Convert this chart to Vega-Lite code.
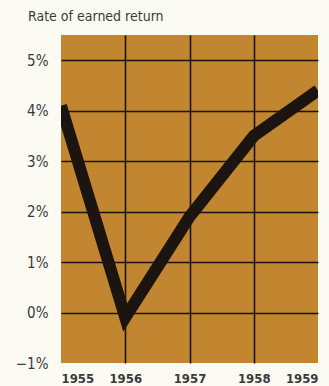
{
  "$schema": "https://vega.github.io/schema/vega-lite/v6.json",
  "autosize": "none",
  "width": 257,
  "height": 328,
  "padding": {"left": 61, "top": 35, "right": 11, "bottom": 23},
  "background": "#fcfbf3",
  "config": {
    "view": {"fill": "#c1862f", "stroke": null},
    "font": "DejaVu Sans Condensed"
  },
  "title": {
    "text": "Rate of earned return",
    "anchor": "start",
    "frame": "group",
    "dx": -33,
    "offset": 11,
    "fontSize": 14,
    "fontWeight": "normal",
    "color": "#3a3a3a",
    "font": "DejaVu Sans Condensed"
  },
  "data": {
    "values": [
      {"year": 1955, "rate": 4.1},
      {"year": 1956, "rate": -0.1},
      {"year": 1957, "rate": 1.9},
      {"year": 1958, "rate": 3.5},
      {"year": 1959, "rate": 4.4}
    ]
  },
  "mark": {"type": "line", "color": "#1c1410", "strokeWidth": 12, "clip": true, "strokeJoin": "miter"},
  "encoding": {
    "x": {
      "field": "year",
      "type": "quantitative",
      "scale": {"domain": [1955, 1959], "nice": false, "zero": false},
      "axis": {
        "title": null,
        "values": [1955, 1956, 1957, 1958, 1959],
        "format": "d",
        "domain": false,
        "ticks": false,
        "labelPadding": 9,
        "labelFontSize": 13,
        "labelFontWeight": "bold",
        "labelColor": "#3a3a3a",
        "grid": true,
        "gridColor": "#1a1410",
        "gridWidth": 1.6,
        "gridOpacity": {"condition": {"test": "datum.value == 1955 || datum.value == 1959", "value": 0}, "value": 1}
      }
    },
    "y": {
      "field": "rate",
      "type": "quantitative",
      "scale": {"domain": [-1, 5.5], "nice": false, "zero": false},
      "axis": {
        "title": null,
        "values": [-1, 0, 1, 2, 3, 4, 5],
        "labelExpr": "datum.value < 0 ? '\u22121%' : datum.value + '%'",
        "domain": false,
        "ticks": false,
        "labelPadding": 13,
        "labelFontSize": 15,
        "labelColor": "#3a3a3a",
        "grid": true,
        "gridColor": "#1a1410",
        "gridWidth": 1.6,
        "gridOpacity": {"condition": {"test": "datum.value == -1", "value": 0}, "value": 1}
      }
    }
  }
}
